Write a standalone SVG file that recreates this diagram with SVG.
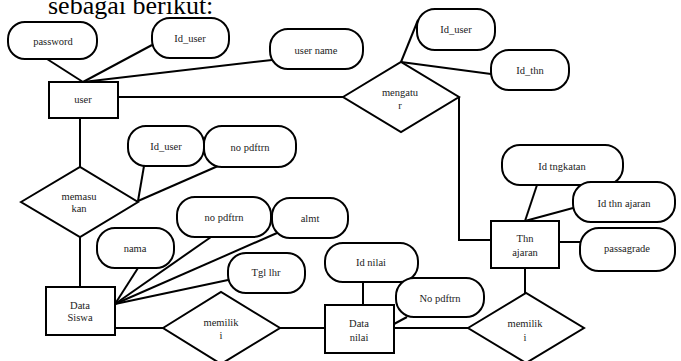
<svg xmlns="http://www.w3.org/2000/svg" width="681" height="361" viewBox="0 0 681 361">
<style>
.e{fill:#fff;stroke:#000;stroke-width:2}
.r{fill:#fff;stroke:#000;stroke-width:2}
.d{fill:#fff;stroke:#000;stroke-width:2}
.c line,.c polyline{stroke:#000;stroke-width:2;fill:none}
text{font-family:"Liberation Serif","Times New Roman",serif;font-size:10.5px;fill:#222;text-anchor:middle}
.t{font-size:26px;fill:#000;text-anchor:start}
</style>
<rect width="681" height="361" fill="#fff"/>
<text class="t" x="48" y="14">sebagai berikut:</text>
<g class="c" id="connectors">
<line x1="47" y1="59" x2="83" y2="82"/>
<line x1="152" y1="45" x2="83" y2="82"/>
<line x1="272" y1="60" x2="83" y2="82"/>
<line x1="118" y1="97" x2="343" y2="97"/>
<line x1="401" y1="62" x2="418" y2="20"/>
<line x1="401" y1="62" x2="491" y2="74"/>
<polyline points="459,97 459,240 491,240"/>
<line x1="80" y1="118" x2="80" y2="167"/>
<line x1="138" y1="201" x2="144" y2="166"/>
<line x1="138" y1="201" x2="218" y2="166"/>
<line x1="80" y1="237" x2="80" y2="287"/>
<line x1="115" y1="304" x2="138" y2="268"/>
<line x1="115" y1="304" x2="211" y2="237"/>
<line x1="115" y1="304" x2="277" y2="233"/>
<line x1="115" y1="304" x2="228" y2="280"/>
<line x1="115" y1="328" x2="163" y2="328"/>
<line x1="280" y1="328" x2="325" y2="328"/>
<line x1="363" y1="282" x2="363" y2="305"/>
<line x1="407" y1="317" x2="394" y2="324"/>
<line x1="394" y1="328" x2="468" y2="328"/>
<line x1="525" y1="268" x2="525" y2="293"/>
<line x1="537" y1="185" x2="525" y2="221"/>
<line x1="573" y1="208" x2="525" y2="221"/>
<line x1="559" y1="242" x2="580" y2="242"/>
</g>
<g id="password"><rect class="e" x="8" y="22" width="89" height="37" rx="17"/><text x="53" y="44.5">password</text></g>
<g id="id_user1"><rect class="e" x="152" y="18" width="77" height="40" rx="18"/><text x="190" y="42">Id_user</text></g>
<g id="user_name"><rect class="e" x="270" y="29" width="93" height="40" rx="18"/><text x="316" y="53.5">user name</text></g>
<g id="user"><rect class="r" x="49" y="82" width="69" height="36"/><text x="83" y="102.5">user</text></g>
<g id="mengatur"><polygon class="d" points="343,97 401,62 459,97 401,132"/><text x="400" y="95.5">mengatu</text><text x="400" y="108.5">r</text></g>
<g id="id_user2"><rect class="e" x="417" y="9" width="78" height="41" rx="18"/><text x="456" y="33">Id_user</text></g>
<g id="id_thn"><rect class="e" x="491" y="50" width="78" height="40" rx="18"/><text x="530" y="73.5">Id_thn</text></g>
<g id="memasukan"><polygon class="d" points="21,202 80,167 138,202 80,237"/><text x="79" y="199.5">memasu</text><text x="79" y="211.5">kan</text></g>
<g id="id_user3"><rect class="e" x="128" y="126" width="76" height="40" rx="18"/><text x="166" y="149.5">Id_user</text></g>
<g id="no_pdftrn1"><rect class="e" x="204" y="126" width="92" height="41" rx="18"/><text x="250" y="150.5">no pdftrn</text></g>
<g id="no_pdftrn2"><rect class="e" x="177" y="197" width="94" height="40" rx="18"/><text x="224" y="221">no pdftrn</text></g>
<g id="almt"><rect class="e" x="272" y="198" width="76" height="40" rx="18"/><text x="310" y="221.5">almt</text></g>
<g id="nama"><rect class="e" x="97" y="228" width="77" height="40" rx="18"/><text x="135" y="252">nama</text></g>
<g id="tgl_lhr"><rect class="e" x="228" y="253" width="77" height="40" rx="18"/><text x="266" y="275.5">Tgl lhr</text></g>
<g id="data_siswa"><rect class="r" x="46" y="287" width="69" height="48"/><text x="80" y="308.5">Data</text><text x="80" y="320.5">Siswa</text></g>
<g id="memiliki1"><polygon class="d" points="163,328 221,292 280,328 221,364"/><text x="221" y="325.5">memilik</text><text x="221" y="338.5">i</text></g>
<g id="id_nilai"><rect class="e" x="325" y="243" width="93" height="39" rx="18"/><text x="371" y="265.5">Id nilai</text></g>
<g id="no_pdftrn3"><rect class="e" x="396" y="278" width="88" height="39" rx="18"/><text x="440" y="301.5">No pdftrn</text></g>
<g id="data_nilai"><rect class="r" x="325" y="305" width="69" height="48"/><text x="359" y="326.5">Data</text><text x="359" y="340.5">nilai</text></g>
<g id="memiliki2"><polygon class="d" points="468,328 526,293 584,328 526,363"/><text x="525" y="326.5">memilik</text><text x="525" y="340.5">i</text></g>
<g id="thn_ajaran"><rect class="r" x="491" y="221" width="68" height="47"/><text x="525" y="241.5">Thn</text><text x="525" y="255.5">ajaran</text></g>
<g id="id_tngkatan"><rect class="e" x="502" y="145" width="121" height="40" rx="18"/><text x="562" y="169.5">Id tngkatan</text></g>
<g id="id_thn_ajaran"><rect class="e" x="573" y="182" width="102" height="40" rx="18"/><text x="624" y="206.5">Id thn ajaran</text></g>
<g id="passagrade"><rect class="e" x="580" y="228" width="95" height="43" rx="19"/><text x="627" y="251.5">passagrade</text></g>
</svg>
